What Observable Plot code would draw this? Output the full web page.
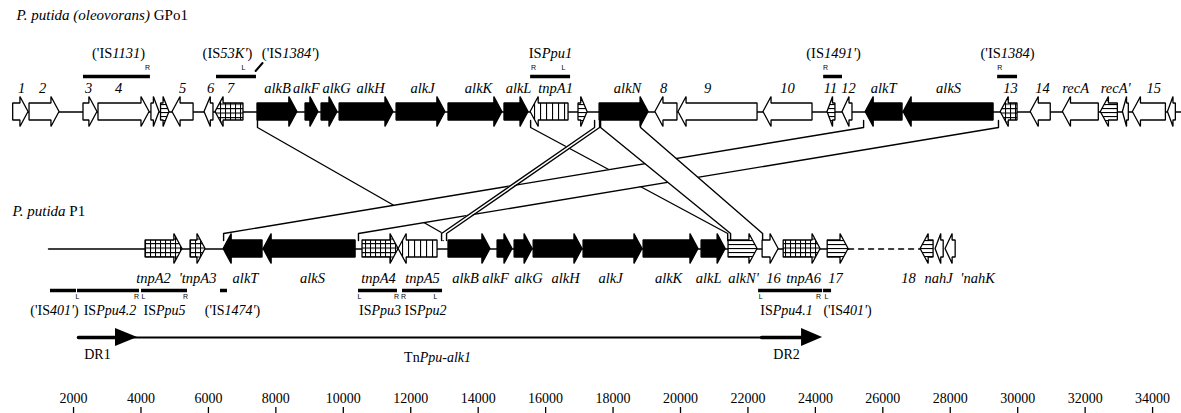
<!DOCTYPE html>
<html><head><meta charset="utf-8">
<script src="https://cdn.jsdelivr.net/npm/d3@7"></script>
<script src="https://cdn.jsdelivr.net/npm/@observablehq/plot@0.6"></script>
<style>
body{margin:0;background:#fff} svg{display:block}
#chart svg text{font-family:"Liberation Serif","Times New Roman",serif !important}
#chart svg g[font-size="7"] text{font-family:"Liberation Sans",Arial,sans-serif !important}
</style>
</head><body><div id="chart"></div>
<script>
// ---------- DATA (positions in bp, read from the map) ----------
// genes: [name, start, end, strand, kind]
const topGenes = [
  ["1",210,665,1,"other"],["2",695,1585,1,"other"],["3",2295,2710,1,"other"],["4",2740,4255,1,"other"],
  ["s1",4310,4550,1,"other"],["s2",4595,4845,1,"hstripe"],["5",4935,5560,-1,"other"],["6",5885,6150,-1,"other"],
  ["7",6210,7040,-1,"tnp"],["alkB",7455,8640,1,"alk"],["alkF",8880,9265,1,"alk"],["alkG",9355,9830,1,"alk"],
  ["alkH",9890,11490,1,"alk"],["alkJ",11580,13030,1,"alk"],["alkK",13120,14720,1,"alk"],["alkL",14780,15495,1,"alk"],
  ["tnpA1",15555,16680,-1,"vstripe"],["s3",16975,17245,1,"hstripe"],["alkN",17600,19055,1,"alk"],
  ["8",19255,19910,-1,"other"],["9",19940,22285,-1,"other"],["10",22460,23915,-1,"other"],
  ["11",24360,24595,-1,"hstripe"],["12",24805,25100,-1,"other"],["alkT",25490,26585,-1,"alk"],
  ["alkS",26615,29285,-1,"alk"],["13",29495,29995,-1,"tnp"],["14",30385,30980,-1,"other"],
  ["recA",31340,32405,-1,"other"],["recA'",32465,32970,-1,"hstripe"],["s4",33120,33295,-1,"other"],
  ["15",33415,34395,-1,"other"],["s5",34455,34690,-1,"other"]
];
const bottomGenes = [
  ["tnpA2",4135,5230,1,"tnp"],["'tnpA3",5470,5915,1,"tnp"],["alkT",6450,7605,-1,"alk"],["alkS",7635,10365,-1,"alk"],
  ["tnpA4",10570,11640,1,"tnp"],["tnpA5",11640,12795,-1,"vstripe"],["alkB",13120,14365,1,"alk"],
  ["alkF",14575,15020,1,"alk"],["alkG",15080,15615,1,"alk"],["alkH",15645,17095,1,"alk"],["alkJ",17125,18875,1,"alk"],
  ["alkK",18905,20535,1,"alk"],["alkL",20625,21340,1,"alk"],["alkN'",21425,22285,1,"hstripe"],
  ["16",22435,22910,1,"other"],["tnpA6",23060,24155,1,"tnp"],["17",24365,24985,1,"hstripe"],
  ["18",27120,27505,-1,"hstripe"],["nahJ",27565,27805,-1,"other"],["'nahK",27860,28160,-1,"other"]
];
// gene labels: [text, bp]
const topLabels = [["1",457],["2",1080],["3",2444],["4",3334],["5",5232],["6",6062],["7",6655],["alkB",8049],
  ["alkF",8900],["alkG",9800],["alkH",10808],["alkJ",12350],["alkK",14011],["alkL",15197],["tnpA1",16295],
  ["alkN",18430],["8",19498],["9",20803],["10",23176],["11",24451],["12",24985],["alkT",26023],["alkS",27951],
  ["13",29790],["14",30739],["recA",31718],["recA'",32905],["15",34032]];
const bottomLabels = [["tnpA2",4372],["'tnpA3",5677],["alkT",7100],["alkS",9087],["tnpA4",11045],["tnpA5",12350],
  ["alkB",13625],["alkF",14515],["alkG",15494],["alkH",16591],["alkJ",17926],["alkK",19646],["alkL",20833],
  ["alkN'",21871],["16",22761],["tnpA6",23650],["17",24600],["18",26765],["nahJ",27654],["'nahK",28811]];
// insertion sequences: [label (underscores toggle italic), bar start, bar end, label bp]
const topIS = [["('IS_1131_)",2295,4280,3334],["(IS_53K'_)",6240,7425,6566],["('IS_1384'_)",null,null,8434],
  ["IS_Ppu1_",15555,16740,16145],["(IS_1491'_)",24245,24805,24540],["('IS_1384_)",29405,29995,29700]];
const topISEnds = [["R",4193],["L",7041],["R",15640],["L",16530],["R",24300],["R",29465]];
const bottomIS = [["('IS_401'_)",1317,2088,1435],["IS_Ppu4.2_",2118,3957,3080],["IS_Ppu5_",4016,5380,4698],
  ["('IS_1474'_)",6359,6566,6715],["IS_Ppu3_",10451,11607,11090],["IS_Ppu2_",11756,12943,12440],
  ["IS_Ppu4.1_",22316,24214,23146],["('IS_401'_)",24243,24480,24955]];
const bottomISEnds = [["L",2118],["R",3868],["L",4075],["R",5321],["L",10481],["R",11579],["R",11786],
  ["L",12736],["L",22375],["R",24095],["L",24332]];
// homologous blocks linking the two maps: [name, topLeft, topRight, bottomLeft, bottomRight]
const blocks = [["alkB-alkL",7455,15555,12960,21400],["alkT-alkS",25430,29430,6450,10450],
  ["alkN",17630,18815,21485,22435],["junction",17452,17600,12914,13062]];
const topBackbone = [210, 34880];
const bottomBackbone = [1257, 24985];
const bottomGap = [24985, 27120];
const transposon = [2147, 23590];          // TnPpu-alk1 extent
const dr1 = [2147, 3245, 3900];            // DR1 start, head base, tip
const dr2 = [22405, 23590, 24213];         // DR2 start, head base, tip
const tickValues = [2000,4000,6000,8000,10000,12000,14000,16000,18000,20000,22000,24000,26000,28000,30000,32000,34000];
const pointer1384 = [7400, 7605];

// ---------- LAYOUT ----------
const W = 1181, H = 413;
const YT = 111.5, YB = 248.5, BODY = 8.5, HEAD = 15, HEADLEN = 240;
const FILL = {alk:"black", other:"white", tnp:"url(#grid)", vstripe:"url(#vstripe)", hstripe:"url(#hstripe)"};
const serif = "Liberation Serif";
const sans = "Liberation Sans";

function genePolys(genes, cy, row) {
  const out = [];
  genes.forEach(([name, s, e, dir, kind], i) => {
    const id = row + i, fill = FILL[kind];
    const h = Math.min(HEADLEN, (e - s) * 0.7);
    const pts = dir > 0
      ? [[s, -BODY, BODY], [e - h, -BODY, BODY], [e - h, -HEAD, HEAD], [e, 0, 0]]
      : [[s, 0, 0], [s + h, -HEAD, HEAD], [s + h, -BODY, BODY], [e, -BODY, BODY]];
    for (const [x, a, b] of pts) out.push({id, fill, x, y1: cy + a, y2: cy + b});
  });
  return out;
}
const genes = [...genePolys(topGenes, YT, "t"), ...genePolys(bottomGenes, YB, "b")];

const BT1 = 120, BT2 = 127, BB1 = 233, BB2 = 240;
function blockMarks([name, tl, tr, bl, br]) {
  const area = [{y: BT1, x1: tl, x2: tr}, {y: BT2, x1: tl, x2: tr}, {y: BB1, x1: bl, x2: br}, {y: BB2, x1: bl, x2: br}];
  const edges = [];
  for (const [k, a, b] of [["l", tl, bl], ["r", tr, br]]) {
    edges.push({k, x: a, y: BT1}, {k, x: a, y: BT2}, {k, x: b, y: BB1}, {k, x: b, y: BB2});
  }
  return [
    Plot.areaX(area, {y: "y", x1: "x1", x2: "x2", fill: "white"}),
    Plot.line(edges, {x: "x", y: "y", z: "k", stroke: "black", strokeWidth: 1.4})
  ];
}

const lbl = (arr) => arr.map(([t, x]) => ({t, x}));
const isBars = (arr) => arr.filter(d => d[1] != null).map(([t, a, b]) => ({a, b}));
const isText = (arr) => arr.map(([t, a, b, x]) => ({t, x}));

const chart = Plot.plot({
  width: W, height: H,
  margin: 0,
  style: {background: "white"},
  x: {domain: [0, 35000], range: [5.6, 1185.8], axis: null},
  y: {domain: [0, H], range: [0, H], axis: null},
  color: {type: "identity"},
  marks: [
    ...blocks.flatMap(blockMarks),
    // backbones
    Plot.line(topBackbone.map(x => ({x})), {x: "x", y: YT, stroke: "black", strokeWidth: 1.4}),
    Plot.line(bottomBackbone.map(x => ({x})), {x: "x", y: YB, stroke: "black", strokeWidth: 1.4}),
    Plot.line(bottomGap.map(x => ({x})), {x: "x", y: YB, stroke: "black", strokeWidth: 1.4, strokeDasharray: "5,5"}),
    // genes
    Plot.areaY(genes, {x: "x", y1: "y1", y2: "y2", z: "id", fill: "fill", stroke: "black", strokeWidth: 1.3, strokeLinejoin: "miter"}),
    // gene labels
    Plot.text(lbl(topLabels), {x: "x", y: 88, text: "t", fontSize: 14.5, fontStyle: "italic", fontFamily: serif}),
    Plot.text(lbl(bottomLabels), {x: "x", y: 278, text: "t", fontSize: 14.5, fontStyle: "italic", fontFamily: serif}),
    // IS elements top
    Plot.ruleY(isBars(topIS), {y: 76, x1: "a", x2: "b", strokeWidth: 3.5}),
    Plot.text(isText(topIS), {x: "x", y: 53, text: "t", fontSize: 14.5, fontFamily: serif}),
    Plot.text(lbl(topISEnds), {x: "x", y: 67.5, text: "t", fontSize: 7, fontFamily: sans}),
    Plot.line([{x: pointer1384[0], y: 70.5}, {x: pointer1384[1], y: 62.5}], {x: "x", y: "y", strokeWidth: 2}),
    // IS elements bottom
    Plot.ruleY(isBars(bottomIS), {y: 290, x1: "a", x2: "b", strokeWidth: 3.5}),
    Plot.text(isText(bottomIS), {x: "x", y: 310, text: "t", fontSize: 14, fontFamily: serif}),
    Plot.text(lbl(bottomISEnds), {x: "x", y: 296.5, text: "t", fontSize: 7, fontFamily: sans}),
    // titles
    Plot.text([{t: "_P. putida (oleovorans)_ GPo1", x: 308}], {x: "x", y: 15, text: "t", textAnchor: "start", fontSize: 15, fontFamily: serif}),
    Plot.text([{t: "_P. putida_ P1", x: 190}], {x: "x", y: 211, text: "t", textAnchor: "start", fontSize: 15, fontFamily: serif}),
    // transposon and direct repeats
    Plot.line(transposon.map(x => ({x})), {x: "x", y: 337, strokeWidth: 2}),
    Plot.line([dr1[0], dr1[1]].map(x => ({x})), {x: "x", y: 337, strokeWidth: 3.5}),
    Plot.line([dr2[0], dr2[1]].map(x => ({x})), {x: "x", y: 337, strokeWidth: 3.5}),
    Plot.areaY([{k: 1, x: dr1[1], a: 328, b: 346}, {k: 1, x: dr1[2], a: 337, b: 337},
                {k: 2, x: dr2[1], a: 328, b: 346}, {k: 2, x: dr2[2], a: 337, b: 337}],
      {x: "x", y1: "a", y2: "b", z: "k", fill: "black"}),
    Plot.text([{t: "DR1", x: 2710}, {t: "DR2", x: 23144}], {x: "x", y: 354, text: "t", fontSize: 14, fontFamily: serif}),
    Plot.text([{t: "Tn_Ppu-alk1_", x: 12795}], {x: "x", y: 357, text: "t", fontSize: 14, fontFamily: serif}),
    // scale
    Plot.ruleX(tickValues, {x: d => d, y1: 407, y2: 413, strokeWidth: 1.3}),
    Plot.text(tickValues, {x: d => d, y: 398, text: d => String(d), fontSize: 14, fontFamily: serif})
  ]
});

// patterns for hatched genes
const defs = d3.select(chart).insert("defs", ":first-child");
defs.html(`
  <pattern id="grid" patternUnits="userSpaceOnUse" width="5" height="4.5">
    <rect width="5" height="4.5" fill="white"/>
    <path d="M0.5 0 V4.5 M0 0.5 H5" stroke="black" stroke-width="1.1"/>
  </pattern>
  <pattern id="vstripe" patternUnits="userSpaceOnUse" width="6" height="6">
    <rect width="6" height="6" fill="white"/>
    <path d="M0.5 0 V6" stroke="black" stroke-width="1.2"/>
  </pattern>
  <pattern id="hstripe" patternUnits="userSpaceOnUse" width="6" height="4">
    <rect width="6" height="4" fill="white"/>
    <path d="M0 0.5 H6" stroke="black" stroke-width="1.2"/>
  </pattern>`);

// mixed roman / italic text: underscores toggle italic
chart.querySelectorAll("text").forEach(t => {
  const s = t.textContent;
  if (!s.includes("_")) return;
  const parts = s.split("_");
  t.textContent = "";
  parts.forEach((p, i) => {
    if (!p) return;
    const ts = document.createElementNS("http://www.w3.org/2000/svg", "tspan");
    ts.textContent = p;
    if (i % 2 === 1) ts.setAttribute("font-style", "italic");
    t.appendChild(ts);
  });
});

document.getElementById("chart").appendChild(chart);
</script>
</body></html>
